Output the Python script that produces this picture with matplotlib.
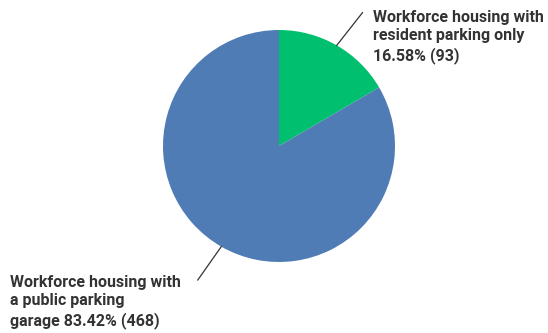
import numpy as np
import matplotlib.pyplot as plt
import matplotlib

matplotlib.rcParams['font.family'] = ['Roboto', 'DejaVu Sans']

# survey answers and counts
labels = ['Workforce housing with\nresident parking only',
          'Workforce housing with\na public parking\ngarage']
counts = [93, 468]
colors = ['#00bf6f', '#507cb6']

W, H = 548, 333
fig = plt.figure(figsize=[W / 100, H / 100], dpi=100)

# pie centre and radius in pixels
cx, cy, r = 279, 146, 116
ax = fig.add_axes([(cx - r) / W, (H - cy - r) / H, 2 * r / W, 2 * r / H])
wedges, _ = ax.pie(counts, colors=colors, startangle=90, counterclock=False,
                   radius=1, wedgeprops=dict(linewidth=0))
ax.set_xlim(-1, 1)
ax.set_ylim(-1, 1)
ax.set_aspect('equal')
ax.axis('off')

total = float(np.sum(counts))
pcts = [100 * c / total for c in counts]

# text placements (figure pixels, top-left of each label)
text_pos = [(373, H - 10), (10, H - 275)]
line_end = [(0.72, 1.15), (-0.70, -1.155)]

for w, lab, c, p, tp, le in zip(wedges, labels, counts, pcts, text_pos, line_end):
    ang = np.deg2rad((w.theta1 + w.theta2) / 2)
    x0, y0 = np.cos(ang), np.sin(ang)
    ax.plot([x0, le[0]], [y0, le[1]], color='#333333', lw=0.9, clip_on=False)
    txt = '%s %.2f%% (%d)' % (lab, p, c)
    if lab.endswith('only'):
        txt = '%s\n%.2f%% (%d)' % (lab, p, c)
    fig.text(tp[0] / W, tp[1] / H, txt, ha='left', va='top', fontsize=11.5,
             fontweight='bold', color='#333333', linespacing=1.27)

plt.savefig('out.png', dpi=100)
plt.close()
